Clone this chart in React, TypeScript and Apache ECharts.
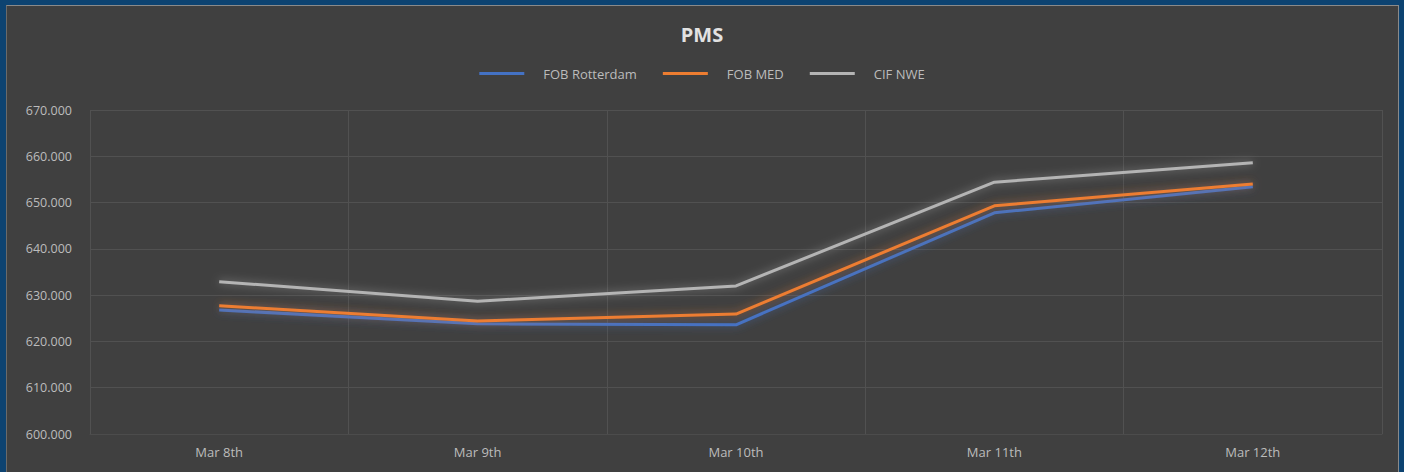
import React, { useEffect, useRef } from "react";
import * as echarts from "echarts";

const categories = ["Mar 8th", "Mar 9th", "Mar 10th", "Mar 11th", "Mar 12th"];
const fobRotterdam = [626.8, 623.8, 623.6, 647.8, 653.4];
const fobMed = [627.7, 624.4, 625.9, 649.3, 654.0];
const cifNwe = [632.9, 628.7, 632.0, 654.4, 658.6];
const seriesNames = ["FOB Rotterdam", "FOB MED", "CIF NWE"];
const seriesColors = ["#4472C4", "#ED7D31", "#B4B4B4"];

export default function App() {
  const ref = useRef<HTMLDivElement>(null);
  useEffect(() => {
    document.body.style.margin = "0";
    if (!ref.current) return;
    const chart = echarts.init(ref.current, null, { renderer: "svg" });
    const font = "'Open Sans', Lato, sans-serif";
    const data = [fobRotterdam, fobMed, cifNwe];
    chart.setOption({
      animation: false,
      backgroundColor: "transparent",
      textStyle: { fontFamily: font },
      title: {
        text: "PMS",
        left: "center",
        top: 19,
        textStyle: { color: "#e2e2e2", fontSize: 20, fontWeight: "bold", fontFamily: font },
      },
      legend: {
        top: 62,
        left: "center",
        icon: "rect",
        itemWidth: 45,
        itemHeight: 3,
        itemGap: 26,
        textStyle: { color: "#bcbcbc", fontSize: 13, fontFamily: font, padding: [0, 0, 0, 14] },
        data: seriesNames,
      },
      grid: { left: 90, right: 22, top: 110, bottom: 38, containLabel: false },
      xAxis: {
        type: "category",
        data: categories,
        boundaryGap: true,
        axisLine: { show: true, lineStyle: { color: "#4c4c4c", width: 1 } },
        axisTick: { show: false },
        axisLabel: { color: "#bcbcbc", fontSize: 13, margin: 11, fontFamily: font },
        splitLine: { show: true, lineStyle: { color: "#515151", width: 1 } },
      },
      yAxis: {
        type: "value",
        min: 600,
        max: 670,
        interval: 10,
        axisLine: { show: false },
        axisTick: { show: false },
        axisLabel: {
          color: "#bcbcbc",
          fontSize: 12.5,
          margin: 18,
          fontFamily: font,
          formatter: (v: number) => v.toFixed(3),
        },
        splitLine: { show: true, lineStyle: { color: "#515151", width: 1 } },
      },
      series: seriesNames.map((name, i) => ({
        name,
        type: "line",
        data: data[i],
        symbol: "none",
        color: seriesColors[i],
        lineStyle: {
          width: 3,
          color: seriesColors[i],
          shadowBlur: 8,
          shadowColor: seriesColors[i] + "99",
        },
        z: 2 + i,
      })),
    });
    return () => chart.dispose();
  }, []);
  return (
    <div style={{ position: "relative", width: 1404, height: 472, background: "#0d4371", overflow: "hidden" }}>
      <div
        style={{
          position: "absolute",
          left: 6,
          top: 5,
          width: 1391,
          height: 480,
          background: "#404040",
          borderTop: "1px solid #8a8a8a",
          borderLeft: "1px solid #6a6a6a",
          borderRight: "1px solid #8a8a8a",
        }}
      />
      <div ref={ref} style={{ position: "absolute", left: 0, top: 0, width: 1404, height: 472 }} />
    </div>
  );
}
